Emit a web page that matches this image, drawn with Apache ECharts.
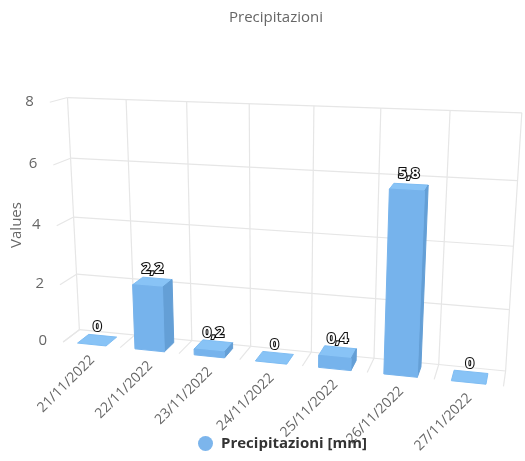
<!DOCTYPE html>
<html><head><meta charset="utf-8">
<style>html,body{margin:0;padding:0;background:#fff}#c{width:525px;height:461px}</style>
<script src="https://cdn.jsdelivr.net/npm/echarts@6/dist/echarts.min.js"></script>
</head><body><div id="c"></div>
<script>
var categories = ['21/11/2022','22/11/2022','23/11/2022','24/11/2022','25/11/2022','26/11/2022','27/11/2022'];
var precipitation = [0, 2.2, 0.2, 0, 0.4, 5.8, 0];
var yTicks = [0, 2, 4, 6, 8];
var seriesName = 'Precipitazioni [mm]';
var chartTitle = 'Precipitazioni';
var yTitle = 'Values';

// Perspective of the 3D box: [u across, value, w depth (1=back)] -> screen, fitted at load
var calib = [
 [0,0,1,79.3,329.3],[0,2,1,76.7,274.7],[0,4,1,73.7,216.7],[0,6,1,70.7,159],[0,8,1,67.7,96.7],
 [1,0,1,506,371],[1,2,1,509.3,310],[1,4,1,513.3,246],[1,6,1,517.3,181.7],[1,8,1,521.7,112.7],
 [0,0,0,63.3,342.3],[0,2,0,60.3,285.7],[0,4,0,56.7,226],[0,6,0,53.3,165.7],[0,8,0,50,101.7],
 [1,0,0,504.3,386],[1/7,8,1,125.7,99],
 [1/7,0,0,119.3,347],[2/7,0,0,178.7,353],[3/7,0,0,240,360],[4/7,0,0,302.3,365.7],[5/7,0,0,366.7,372.7],[6/7,0,0,434,379]
];
function fit(pts){
  var n=11,A=[],i,j,k;
  for(i=0;i<n;i++){A.push(new Array(n+1).fill(0));}
  function add(r,b){for(i=0;i<n;i++){for(j=0;j<n;j++)A[i][j]+=r[i]*r[j];A[i][n]+=r[i]*b;}}
  pts.forEach(function(p){
    var u=p[0],v=p[1]/8,w=p[2],X=p[3],Y=p[4];
    add([u,v,w,1,0,0,0,0,-X*u,-X*v,-X*w],X);
    add([0,0,0,0,u,v,w,1,-Y*u,-Y*v,-Y*w],Y);
  });
  for(i=0;i<n;i++){
    var m=i;for(k=i+1;k<n;k++)if(Math.abs(A[k][i])>Math.abs(A[m][i]))m=k;
    var t=A[i];A[i]=A[m];A[m]=t;
    for(k=0;k<n;k++){if(k===i)continue;var f=A[k][i]/A[i][i];for(j=i;j<=n;j++)A[k][j]-=f*A[i][j];}
  }
  var s=[];for(i=0;i<n;i++)s.push(A[i][n]/A[i][i]);return s;
}
var P=fit(calib);
function proj(u,val,w){
  var v=val/8,d=P[8]*u+P[9]*v+P[10]*w+1;
  return [(P[0]*u+P[1]*v+P[2]*w+P[3])/d,(P[4]*u+P[5]*v+P[6]*w+P[7])/d];
}
var GRID='#e6e6e6',TXT='#666666';
var FONT='"Open Sans"';
function coordUV(api,params,idx,val){
  var cs=params.coordSys,p=api.coord([idx,val]);
  return {u:(p[0]-cs.x)/cs.width,v:8*(cs.y+cs.height-p[1])/cs.height,bw:api.size([1,0])[0]/cs.width};
}
function seg(a,b){return {type:'line',silent:true,shape:{x1:a[0],y1:a[1],x2:b[0],y2:b[1]},style:{stroke:GRID,lineWidth:1.2}};}

function renderWalls(params,api){
  var ch=[],n=categories.length,lo=yTicks[0],hi=yTicks[yTicks.length-1];
  for(var k=0;k<=n;k++){
    var x=k/n;
    ch.push(seg(proj(x,lo,1),proj(x,hi,1)));
    ch.push(seg(proj(x,lo,0),proj(x,lo,1)));
  }
  yTicks.forEach(function(t){
    ch.push(seg(proj(0,t,1),proj(1,t,1)));
    ch.push(seg(proj(0,t,0),proj(0,t,1)));
    var q=proj(0,t,0);
    ch.push({type:'text',silent:true,x:q[0]-16,y:q[1]-1,style:{text:String(t),align:'right',verticalAlign:'middle',fill:TXT,font:'15px '+FONT}});
  });
  categories.forEach(function(c,i){
    var uv=coordUV(api,params,i,0),q=proj(uv.u,0,0);
    ch.push({type:'text',silent:true,x:q[0]+1,y:q[1]+13,rotation:Math.PI/4,
      style:{text:c,align:'right',verticalAlign:'middle',fill:TXT,font:'14px '+FONT}});
  });
  ch.push({type:'text',silent:true,x:17,y:225,rotation:Math.PI/2,
    style:{text:yTitle,align:'center',verticalAlign:'middle',fill:TXT,font:'15px '+FONT}});
  return {type:'group',children:ch};
}
function poly(pts,fill,stroke){return {type:'polygon',shape:{points:pts},style:{fill:fill,stroke:stroke,lineWidth:1,lineJoin:'round'}};}
function renderBars(params,api){
  var i=api.value(0),val=api.value(1),uv=coordUV(api,params,i,val),bw=uv.bw;
  var a=uv.u-bw/4,b=uv.u+bw/4,f=0.02,g=0.72,t=uv.v;
  var ch=[];
  ch.push(poly([proj(a,t,f),proj(a,t,g),proj(b,t,g),proj(b,t,f)],'#88c3f6','#7fbdf3'));
  if(val>0){
    ch.push(poly([proj(b,0,f),proj(b,0,g),proj(b,t,g),proj(b,t,f)],'#649fd6','#649fd6'));
    ch.push(poly([proj(a,0,f),proj(b,0,f),proj(b,t,f),proj(a,t,f)],'#76b3ec','#76b3ec'));
  }
  var c=proj(uv.u,t,(f+g)/2);
  ch.push({type:'text',silent:true,z2:10,x:c[0],y:c[1]-13,style:{text:String(val).replace('.',','),align:'center',verticalAlign:'middle',
    fill:'#fff',stroke:'#111',lineWidth:2.2,font:'bold 15px '+FONT}});
  return {type:'group',children:ch};
}
var chart=echarts.init(document.getElementById('c'),null,{renderer:'canvas'});
chart.setOption({
  animation:false,
  backgroundColor:'#fff',
  title:{text:chartTitle,left:229,top:10,padding:0,textStyle:{color:TXT,fontSize:15,fontWeight:'normal',fontFamily:'Open Sans'}},
  legend:{data:[seriesName],icon:'circle',left:198,top:436,padding:0,itemWidth:15,itemHeight:15,z:20,
    textStyle:{color:'#333',fontSize:15,fontWeight:'bold',fontFamily:'Open Sans',padding:[0,0,0,3]}},
  grid:{left:60,right:20,top:100,bottom:100},
  xAxis:{type:'category',data:categories,show:false},
  yAxis:{type:'value',min:0,max:8,interval:2,show:false},
  series:[
    {type:'custom',name:'frame',coordinateSystem:'cartesian2d',data:[[0,0]],encode:{x:0,y:1},renderItem:renderWalls,silent:true,z:1,clip:false},
    {type:'custom',name:seriesName,coordinateSystem:'cartesian2d',itemStyle:{color:'#7cb5ec'},
     data:precipitation.map(function(v,i){return [i,v];}),encode:{x:0,y:1},renderItem:renderBars,z:5,clip:false}
  ]
});
</script></body></html>
